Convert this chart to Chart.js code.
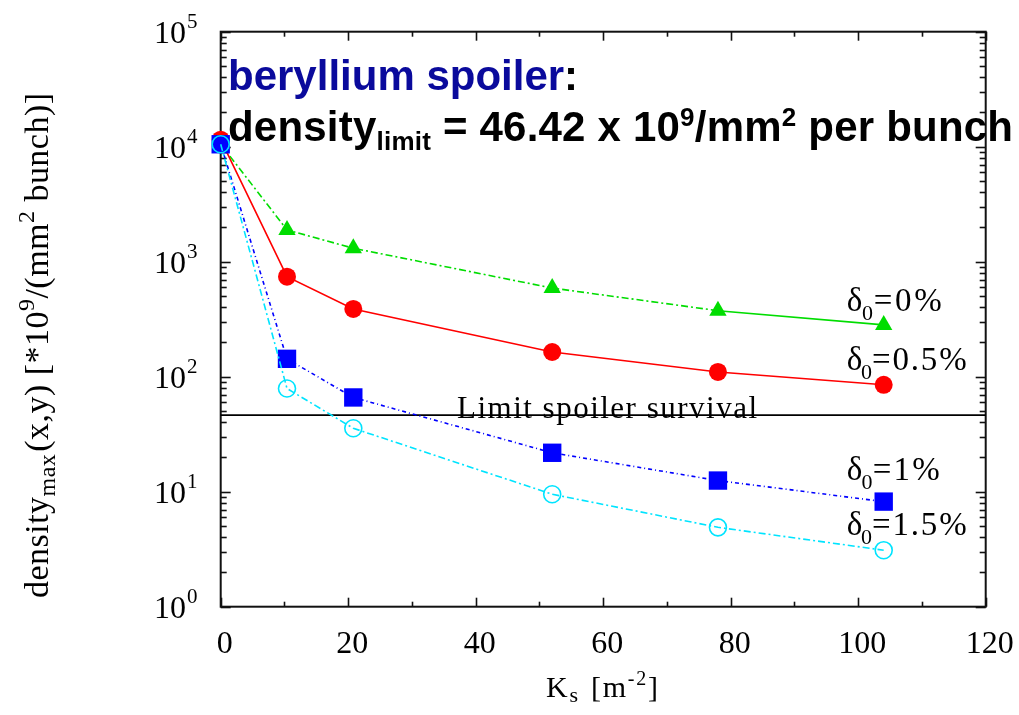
<!DOCTYPE html>
<html>
<head>
<meta charset="utf-8">
<script src="https://cdn.jsdelivr.net/npm/chart.js@4/dist/chart.umd.min.js"></script>
<style>
  html, body { margin: 0; padding: 0; background: #ffffff; }
  canvas { display: block; }
</style>
</head>
<body>
<canvas id="chart" width="1019" height="715"></canvas>
<script>
// Spoiler strength K_s [m^-2]
const ks = [0, 10.4, 20.8, 52, 78, 104];
// Peak bunch density [*10^9/(mm^2 bunch)] for each energy spread delta_0
const dens0 = [10500, 1890, 1310, 590, 375, 282];
const dens05 = [11500, 741, 388, 164, 110, 85];
const dens10 = [10500, 143, 66, 21.8, 12.5, 8.2];
const dens15 = [10500, 79, 35.6, 9.5, 4.9, 3.1];
// Beryllium spoiler survival limit
const densityLimit = 46.42;
const limitLabel = 'Limit spoiler survival';
// Axis ticks
const xTicks = [0, 20, 40, 60, 80, 100, 120];
const yExponents = [0, 1, 2, 3, 4, 5];
const spreadLabels = ['0%', '0.5%', '1%', '1.5%'];

const SERIF = '"Liberation Serif", "Times New Roman", serif';
const SANS = '"Liberation Sans", Arial, sans-serif';

function pts(ys) { return ks.map((k, i) => ({ x: k, y: ys[i] })); }

// Draws a run of text parts (sub/superscripts via dy), optionally spread to a given width
function richText(ctx, parts, x, y, targetWidth) {
  let nat = 0, n = 0;
  parts.forEach(p => {
    ctx.font = p.font;
    p.w = ctx.measureText(p.t).width;
    nat += p.w + (p.dx || 0);
    n += p.t.length;
  });
  const extra = targetWidth ? (targetWidth - nat) / Math.max(1, n - 1) : 0;
  let cx = x;
  ctx.textBaseline = 'alphabetic';
  ctx.textAlign = 'left';
  parts.forEach(p => {
    ctx.font = p.font;
    ctx.fillStyle = p.color || '#000';
    cx += p.dx || 0;
    for (const ch of p.t) {
      ctx.fillText(ch, cx, y + (p.dy || 0));
      cx += ctx.measureText(ch).width + extra;
    }
  });
  return cx - x;
}

// Box frame with inward ticks on all four sides
const framePlugin = {
  id: 'frame',
  beforeDatasetsDraw(chart) {
    const { ctx, chartArea: a, scales: { x, y } } = chart;
    ctx.save();
    ctx.strokeStyle = '#111';
    ctx.lineWidth = 1.6;
    const seg = (x1, y1, x2, y2) => { ctx.beginPath(); ctx.moveTo(x1, y1); ctx.lineTo(x2, y2); ctx.stroke(); };
    for (let v = 0; v <= 120; v += 10) {
      const px = Math.round(x.getPixelForValue(v)) + 0.5;
      const len = v % 20 === 0 ? 9 : 5;
      seg(px, a.bottom, px, a.bottom - len);
      seg(px, a.top, px, a.top + len);
    }
    for (let e = 0; e <= 5; e++) {
      for (let m = 1; m <= 9; m++) {
        const v = m * Math.pow(10, e);
        if (v > 1e5) break;
        const py = Math.round(y.getPixelForValue(v)) + 0.5;
        const len = m === 1 ? 10 : 6;
        seg(a.left, py, a.left + len, py);
        seg(a.right, py, a.right - len, py);
      }
    }
    ctx.lineWidth = 2;
    ctx.strokeRect(a.left, a.top, a.right - a.left, a.bottom - a.top);
    ctx.restore();
  }
};

// Tick labels, axis titles and annotations
const textPlugin = {
  id: 'texts',
  afterDraw(chart) {
    const { ctx, chartArea: a, scales: { x, y } } = chart;
    ctx.save();

    // x tick labels
    ctx.font = '32px ' + SERIF;
    ctx.fillStyle = '#000';
    ctx.textAlign = 'center';
    ctx.textBaseline = 'alphabetic';
    xTicks.forEach(v => ctx.fillText(String(v), x.getPixelForValue(v) + 4, 653));

    // y tick labels 10^n
    yExponents.forEach(e => {
      const py = y.getPixelForValue(Math.pow(10, e));
      richText(ctx, [
        { t: '10', font: '32px ' + SERIF },
        { t: String(e), font: '21px ' + SERIF, dy: -15, dx: 1 }
      ], 154, py + 11);
    });

    // x axis title
    richText(ctx, [
      { t: 'K', font: '30px ' + SERIF },
      { t: 's', font: '22px ' + SERIF, dy: 5 },
      { t: ' [m', font: '30px ' + SERIF, dx: 2 },
      { t: '-2', font: '20px ' + SERIF, dy: -12 },
      { t: ']', font: '30px ' + SERIF }
    ], 546, 697, 112);

    // y axis title (rotated)
    ctx.save();
    ctx.translate(48, 598);
    ctx.rotate(-Math.PI / 2);
    richText(ctx, [
      { t: 'density', font: '34px ' + SERIF },
      { t: 'max', font: '24px ' + SERIF, dy: 7 },
      { t: '(x,y) [*10', font: '34px ' + SERIF, dx: 2 },
      { t: '9', font: '24px ' + SERIF, dy: -14 },
      { t: '/(mm', font: '34px ' + SERIF },
      { t: '2', font: '24px ' + SERIF, dy: -14 },
      { t: ' bunch)]', font: '34px ' + SERIF }
    ], 0, 0, 505);
    ctx.restore();

    // limit line caption
    const ly = y.getPixelForValue(densityLimit);
    richText(ctx, [{ t: limitLabel, font: '31px ' + SERIF }], 457, ly + 3, 300);

    // delta_0 labels beside the last point of each curve
    const last = ks.length - 1;
    const series = [dens0, dens05, dens10, dens15];
    const lift = [14, 15, 22, 15];
    const widths = [95, 120, 93, 120];
    series.forEach((s, i) => {
      const px = x.getPixelForValue(ks[last]);
      const py = y.getPixelForValue(s[last]);
      richText(ctx, [
        { t: '\u03b4', font: '33px ' + SERIF },
        { t: '0', font: '22px ' + SERIF, dy: 9, dx: -3 },
        { t: '=' + spreadLabels[i], font: '33px ' + SERIF, dx: -2 }
      ], px - 37, py - lift[i], widths[i]);
    });

    // headline
    richText(ctx, [
      { t: 'beryllium spoiler', font: 'bold 42px ' + SANS, color: '#0a0a9c' },
      { t: ':', font: 'bold 42px ' + SANS, color: '#000' }
    ], 228, 90);
    richText(ctx, [
      { t: 'density', font: 'bold 42px ' + SANS },
      { t: 'limit', font: 'bold 26px ' + SANS, dy: 9 },
      { t: ' = ' + densityLimit.toFixed(2) + ' x 10', font: 'bold 42px ' + SANS },
      { t: '9', font: 'bold 26px ' + SANS, dy: -15 },
      { t: '/mm', font: 'bold 42px ' + SANS },
      { t: '2', font: 'bold 26px ' + SANS, dy: -15 },
      { t: ' per bunch', font: 'bold 42px ' + SANS }
    ], 228, 141, 785);

    ctx.restore();
  }
};

const lineW = 1.6;
new Chart(document.getElementById('chart'), {
  type: 'scatter',
  data: {
    datasets: [
      {
        label: 'delta0 = 0%', data: pts(dens0), showLine: true, order: 3,
        borderColor: '#00dd00', backgroundColor: '#00dd00', borderWidth: lineW,
        borderDash: [7, 3, 2, 3],
        segment: { borderDash: c => (c.p0DataIndex === ks.length - 2 ? [] : [7, 3, 2, 3]) },
        pointStyle: 'triangle', pointRadius: 10, pointBorderWidth: 0
      },
      {
        label: 'delta0 = 0.5%', data: pts(dens05), showLine: true, order: 2,
        borderColor: '#ff0000', backgroundColor: '#ff0000', borderWidth: lineW,
        pointStyle: 'circle', pointRadius: 9, pointBorderWidth: 0
      },
      {
        label: 'delta0 = 1%', data: pts(dens10), showLine: true, order: 1,
        borderColor: '#0000ff', backgroundColor: '#0000ff', borderWidth: lineW,
        borderDash: [4, 3, 1, 3],
        pointStyle: 'rect', pointRadius: 13, pointBorderWidth: 0
      },
      {
        label: 'delta0 = 1.5%', data: pts(dens15), showLine: true, order: 0,
        borderColor: '#00e4ff', backgroundColor: 'rgba(0,0,0,0)', borderWidth: lineW,
        borderDash: [7, 3, 2, 3],
        pointStyle: 'circle', pointRadius: 8.5, pointBorderWidth: 1.6,
        pointBorderColor: '#00e4ff'
      },
      {
        label: limitLabel, data: [{ x: 0, y: densityLimit }, { x: 120, y: densityLimit }],
        showLine: true, order: 4, borderColor: '#000', borderWidth: 1.8, pointRadius: 0
      }
    ]
  },
  options: {
    responsive: false,
    devicePixelRatio: 1,
    animation: false,
    clip: false,
    layout: { padding: { left: 220.7, right: 33.3, top: 31.7, bottom: 108.3 } },
    plugins: { legend: { display: false }, tooltip: { enabled: false } },
    elements: { line: { tension: 0 } },
    scales: {
      x: { type: 'linear', min: 0, max: 120, display: false },
      y: { type: 'logarithmic', min: 1, max: 100000, display: false }
    }
  },
  plugins: [framePlugin, textPlugin]
});
</script>
</body>
</html>
